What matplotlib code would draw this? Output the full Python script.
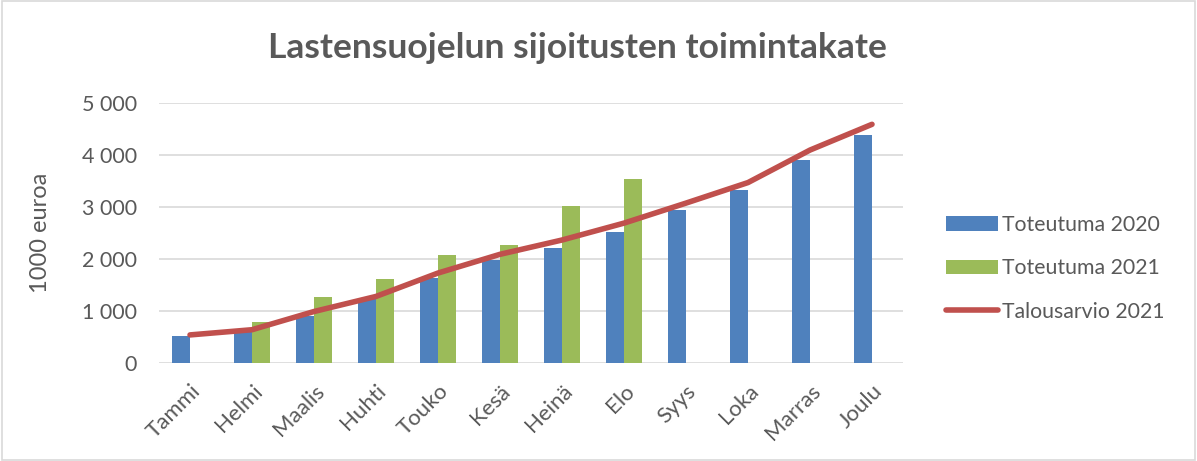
import numpy as np
import matplotlib
matplotlib.use("Agg")
from matplotlib import pyplot as plt
from matplotlib.patches import Rectangle

months = ["Tammi", "Helmi", "Maalis", "Huhti", "Touko", "Kesä",
          "Heinä", "Elo", "Syys", "Loka", "Marras", "Joulu"]
tot2020 = [510, 640, 900, 1240, 1630, 1980, 2220, 2525, 2940, 3320, 3900, 4385]
tot2021 = [None, 790, 1270, 1610, 2080, 2270, 3020, 3545, None, None, None, None]
budget2021 = [540, 640, 990, 1280, 1730, 2090, 2365, 2690, 3075, 3470, 4095, 4590]
yticks = [0, 1000, 2000, 3000, 4000, 5000]

txt = "#595959"
plt.rcParams['font.family'] = ['Lato', 'DejaVu Sans']

fig = plt.figure(figsize=(11.97, 4.61), dpi=100)
ax = fig.add_axes([159/1197, 1-363/461, (903-159)/1197, 260/461])

x = np.arange(len(months))
w = 0.285
b1 = ax.bar(x - w/2, tot2020, w, color="#4F81BD", label="Toteutuma 2020", zorder=2)
g = [np.nan if v is None else v for v in tot2021]
b2 = ax.bar(x + w/2, g, w, color="#9BBB59", label="Toteutuma 2021", zorder=2)
ln, = ax.plot(x, budget2021, color="#C0504D", lw=4, solid_capstyle="round",
              label="Talousarvio 2021", zorder=3)

ax.set_xlim(-0.5, len(months) - 0.5)
ax.set_ylim(0, 5000)
ax.set_yticks(yticks)
ax.set_yticklabels([f"{v:,}".replace(",", " ") for v in yticks], color=txt, fontsize=15.5)
ax.set_xticks(x)
ax.set_xticklabels(months, rotation=45, ha="right", rotation_mode="anchor",
                   color=txt, fontsize=16)
ax.tick_params(length=0, axis="both")
ax.tick_params(axis="y", pad=16)
ax.tick_params(axis="x", pad=13)
ax.grid(axis="y", color="#D9D9D9", lw=1.2, zorder=0)
for s in ax.spines.values():
    s.set_visible(False)
ax.set_ylabel("1000 euroa", color=txt, fontsize=17)
ax.yaxis.set_label_coords(-108/744, 0.5)

fig.suptitle("Lastensuojelun sijoitusten toimintakate", x=577/1197, y=0.93,
             fontsize=25.5, fontweight="bold", color=txt)

leg = fig.legend([b1, b2, ln], [b1.get_label(), b2.get_label(), ln.get_label()],
                 loc="upper left", bbox_to_anchor=(927/1197, 1-196/461),
                 frameon=False, fontsize=15.3, handlelength=2.45, handleheight=0.7,
                 handletextpad=0.2, labelspacing=1.1, labelcolor=txt)

fig.patches.append(Rectangle((0.002, 0.003), 0.996, 0.994, transform=fig.transFigure,
                             fill=False, edgecolor="#D9D9D9", lw=1.2))

fig.savefig("out.png", dpi=100)
